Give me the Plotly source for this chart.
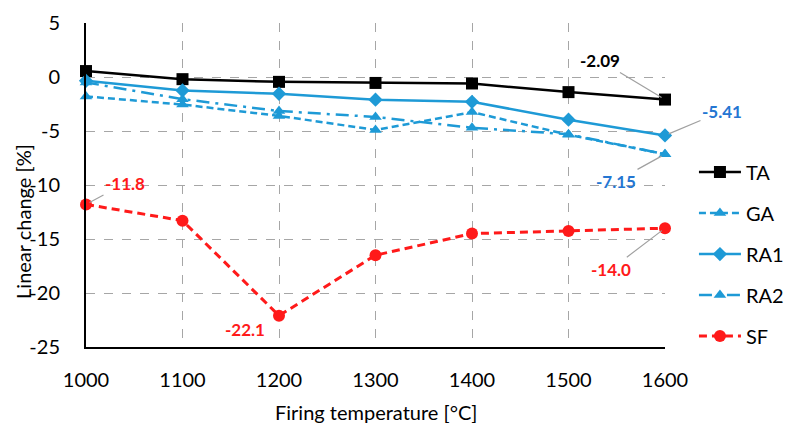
import plotly.graph_objects as go

temps = [1000, 1100, 1200, 1300, 1400, 1500, 1600]
TA = [0.55, -0.2, -0.45, -0.55, -0.6, -1.4, -2.09]
GA = [-1.8, -2.55, -3.6, -4.9, -3.25, -5.35, -7.15]
RA1 = [-0.35, -1.25, -1.55, -2.1, -2.3, -3.95, -5.41]
RA2 = [-0.5, -2.05, -3.15, -3.7, -4.7, -5.3, -7.15]
SF = [-11.8, -13.3, -22.1, -16.5, -14.5, -14.25, -14.0]

y_ticks = [5, 0, -5, -10, -15, -20, -25]
y_tick_text = ["5", "0", "-5", "-10", "-15", "-20", "-25"]
x_ticks = temps
x_tick_text = ["1000", "1100", "1200", "1300", "1400", "1500", "1600"]

BLUE = "#1E9AD6"
RED = "#FF1A1A"
FONT = "Lato"

fig = go.Figure()
series = [
    ("TA", TA, "black", "solid", "square", 12, 2.5),
    ("GA", GA, BLUE, "7px,4px", "triangle-up", 11, 2.5),
    ("RA1", RA1, BLUE, "solid", "diamond", 11, 2.5),
    ("RA2", RA2, BLUE, "13px,6px,3px,6px", "triangle-up", 11, 2.5),
    ("SF", SF, RED, "8px,5px", "circle", 12, 3),
]
for i, (name, vals, col, dash, sym, ms, lw) in enumerate(series):
    fig.add_trace(go.Scatter(
        x=temps, y=vals, name=name, mode="lines+markers",
        line=dict(color=col, dash=dash, width=lw),
        marker=dict(symbol=sym, size=ms, color=col),
        cliponaxis=False, legendgroup=f"g{i}",
    ))

labels = [
    (1600, TA[-1], "-2.09", "black", -65, -39, True),
    (1600, RA1[-1], "-5.41", "#2476D2", 57, -24, True),
    (1600, GA[-1], "-7.15", "#2476D2", -49, 27, True),
    (1000, SF[0], "-11.8", RED, 39, -21, True),
    (1200, SF[2], "-22.1", RED, -34, 14, False),
    (1600, SF[-1], "-14.0", RED, -54, 41, True),
]
for x, y, t, c, ax, ay, arrow in labels:
    if arrow:
        fig.add_annotation(x=x, y=y, text=f"<b>{t}</b>", showarrow=True,
                           ax=ax, ay=ay, arrowhead=0, arrowwidth=1.2,
                           arrowcolor="#A0A0A0", standoff=4,
                           font=dict(family=FONT, size=17, color=c))
    else:
        fig.add_annotation(x=x, y=y, text=f"<b>{t}</b>", showarrow=False,
                           xshift=ax, yshift=-ay,
                           font=dict(family=FONT, size=17, color=c))

fig.add_annotation(xref="paper", yref="paper", x=-0.11, y=0.387,
                   xanchor="center", yanchor="middle",
                   text="Linear change [%]", textangle=-90, showarrow=False,
                   font=dict(family=FONT, size=20, color="black"))
fig.add_annotation(xref="paper", yref="paper", x=0.5, y=-0.2,
                   xanchor="center", yanchor="middle",
                   text="Firing temperature [°C]", showarrow=False,
                   font=dict(family=FONT, size=20, color="black"))

fig.update_xaxes(range=[1000, 1600], tickvals=x_ticks, ticktext=x_tick_text,
                 showgrid=True, gridcolor="#A6A6A6", griddash="dash", gridwidth=1,
                 showline=True, linecolor="black", linewidth=2, zeroline=False,
                 ticks="", ticklabelstandoff=14,
                 tickfont=dict(family=FONT, size=20, color="black"))
fig.update_yaxes(range=[-25, 5], tickvals=y_ticks, ticktext=y_tick_text,
                 showgrid=True, gridcolor="#A6A6A6", griddash="dash", gridwidth=1,
                 showline=True, linecolor="black", linewidth=2, zeroline=False,
                 ticks="", ticklabelstandoff=20,
                 tickfont=dict(family=FONT, size=20, color="black"))

fig.update_layout(
    width=793, height=423,
    margin=dict(l=86, r=128, t=23, b=76, autoexpand=False),
    plot_bgcolor="white", paper_bgcolor="white",
    font=dict(family=FONT, size=20, color="black"),
    legend=dict(x=1.05, y=0.6, xanchor="left", yanchor="top",
                font=dict(family=FONT, size=20), tracegroupgap=12,
                itemwidth=42, bgcolor="rgba(0,0,0,0)"),
)

fig.write_html("out.html", config={"displayModeBar": False},
               post_script="document.body.style.margin='0px';document.body.style.overflow='hidden';")
